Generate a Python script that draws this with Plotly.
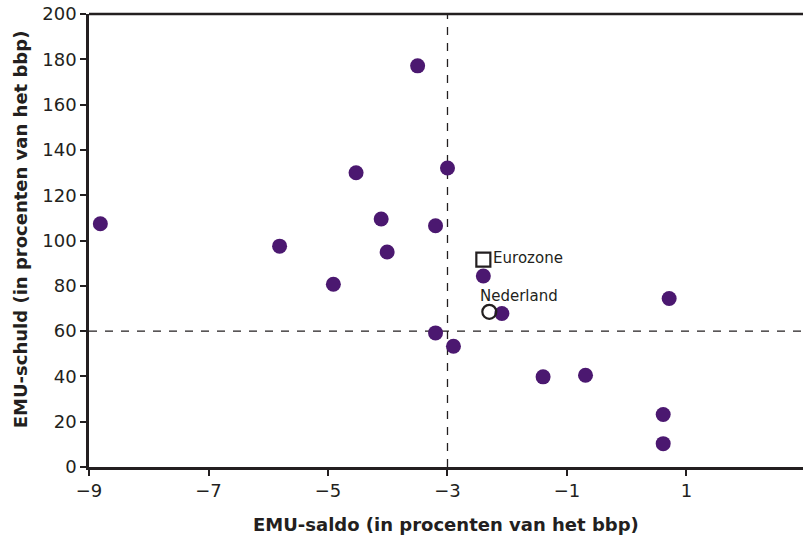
import plotly.graph_objects as go

# Countries: EMU-saldo (x) and EMU-schuld (y)
saldo = [-8.81, -5.81, -4.91, -4.53, -3.50, -3.00, -4.11, -3.20, -4.01, -2.40,
         -2.09, -3.20, -2.90, -1.40, -0.69, 0.71, 0.61, 0.61]
schuld = [107.4, 97.5, 80.7, 129.9, 177.1, 132.0, 109.5, 106.5, 94.9, 84.3,
          67.8, 59.2, 53.3, 39.8, 40.5, 74.4, 23.2, 10.3]

euro_x, euro_y = [-2.40], [91.6]
nl_x, nl_y = [-2.30], [68.5]

norm_saldo = -3
norm_schuld = 60

x_ticks = [-9, -7, -5, -3, -1, 1]
x_tick_text = ["\u22129", "\u22127", "\u22125", "\u22123", "\u22121", "1"]
y_ticks = [0, 20, 40, 60, 80, 100, 120, 140, 160, 180, 200]

x_range = [-9, 2.95]
y_range = [0, 200]

x_title = "EMU-saldo (in procenten van het bbp)"
y_title = "EMU-schuld (in procenten van het bbp)"

FONT = "DejaVu Sans, sans-serif"
DARK = "#231f20"

fig = go.Figure()

fig.add_trace(go.Scatter(
    x=saldo, y=schuld, mode="markers",
    marker=dict(size=15, color="#4b1870", line=dict(width=0)),
    showlegend=False, hoverinfo="skip"))

fig.add_trace(go.Scatter(
    x=euro_x, y=euro_y, mode="markers+text",
    marker=dict(symbol="square-open", size=14, color=DARK, line=dict(width=2.2)),
    text=["Eurozone"], textposition="middle right",
    textfont=dict(family=FONT, size=15, color=DARK),
    showlegend=False, hoverinfo="skip"))

fig.add_trace(go.Scatter(
    x=nl_x, y=nl_y, mode="markers",
    marker=dict(symbol="circle-open", size=14, color=DARK, line=dict(width=2.2)),
    showlegend=False, hoverinfo="skip"))

fig.add_annotation(x=nl_x[0], y=nl_y[0], text="Nederland", showarrow=False,
                   xanchor="left", yanchor="bottom", xshift=-11, yshift=5,
                   font=dict(family=FONT, size=15, color=DARK))

# axis titles
fig.add_annotation(xref="paper", yref="paper", x=0.5, y=-0.126, text="<b>" + x_title + "</b>",
                   showarrow=False, xanchor="center", yanchor="middle",
                   font=dict(family=FONT, size=18, color=DARK))
fig.add_annotation(xref="paper", yref="paper", x=-0.0966, y=0.525, text="<b>" + y_title + "</b>",
                   showarrow=False, xanchor="center", yanchor="middle", textangle=-90,
                   font=dict(family=FONT, size=18, color=DARK))

# reference lines
fig.add_shape(type="line", x0=norm_saldo, x1=norm_saldo, y0=y_range[0], y1=y_range[1],
              line=dict(color=DARK, width=1.3, dash="8px,8px"), layer="below")
fig.add_shape(type="line", x0=x_range[0], x1=x_range[1], y0=norm_schuld, y1=norm_schuld,
              line=dict(color=DARK, width=1.3, dash="8px,8px"), layer="below")
# top border
fig.add_shape(type="line", xref="paper", yref="paper", x0=0, x1=1, y0=1, y1=1,
              line=dict(color=DARK, width=2.5))

fig.update_layout(
    width=803, height=541,
    margin=dict(l=89, r=0, t=14, b=74),
    plot_bgcolor="white", paper_bgcolor="white",
    font=dict(family=FONT, color=DARK),
    xaxis=dict(range=x_range, tickvals=x_ticks, ticktext=x_tick_text,
               showgrid=False, zeroline=False, showline=True, linecolor=DARK, linewidth=2.5,
               ticks="outside", ticklen=6, tickwidth=1.5, tickcolor=DARK,
               ticklabeloverflow="allow", automargin=False,
               tickfont=dict(family=FONT, size=18, color=DARK)),
    yaxis=dict(range=y_range, tickvals=y_ticks,
               showgrid=False, zeroline=False, showline=True, linecolor=DARK, linewidth=2.5,
               ticks="outside", ticklen=6, tickwidth=1.5, tickcolor=DARK,
               ticklabeloverflow="allow", automargin=False,
               tickfont=dict(family=FONT, size=18, color=DARK)),
)

fig.write_html("out.html", config={"displayModeBar": False},
               post_script="document.body.style.margin='0';document.body.style.overflow='hidden';")
